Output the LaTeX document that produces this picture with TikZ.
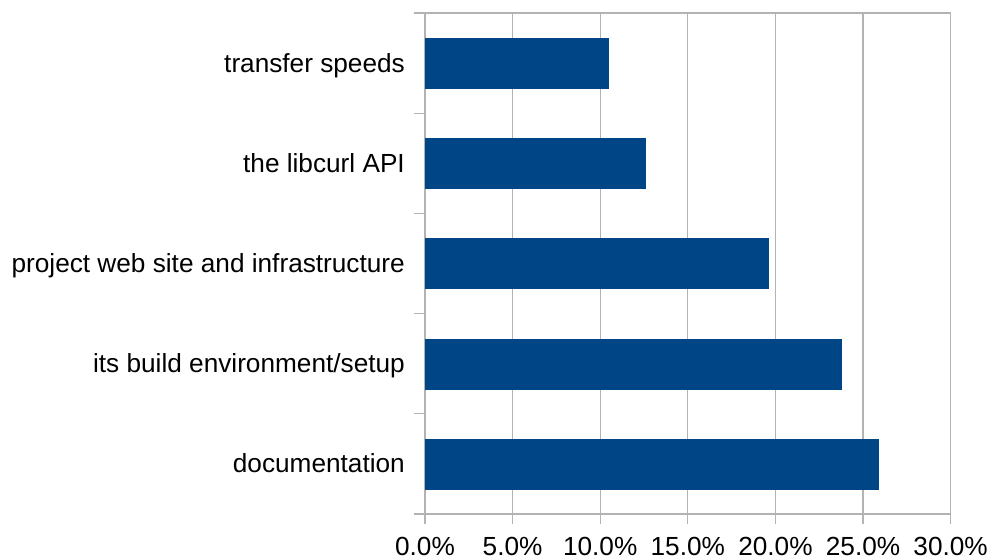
\documentclass[tikz,border=0pt]{standalone}
\usepackage{fontspec}
\setmainfont{Liberation Sans}
\definecolor{barblue}{HTML}{004586}
\definecolor{gridgray}{HTML}{B3B3B3}
\begin{document}
\begin{tikzpicture}[x=1pt,y=-1pt,
  gridline/.style={draw=gridgray,line width=1.2pt},
  bar/.style={fill=barblue},
  catlabel/.style={anchor=base east,inner sep=0pt,font=\fontsize{26.2}{30}\selectfont},
  ticklabel/.style={anchor=base,inner sep=0pt,font=\fontsize{26.2}{30}\selectfont}]
\useasboundingbox (0,0) rectangle (990,557);
% gridlines and axis
\foreach \i in {0,...,6}{
  \pgfmathsetmacro{\xx}{425+\i*87.6}
  \draw[gridline] (\xx,13) -- (\xx,524);
}
\foreach \j in {0,...,5}{
  \pgfmathsetmacro{\yy}{13+\j*100.2}
  \draw[gridline] (414,\yy) -- (425,\yy);
}
\draw[gridline] (425,13) -- (950.6,13);
\draw[gridline] (425,514) -- (950.6,514);
% bars
\fill[bar] (425,38) rectangle (609,89);
\fill[bar] (425,138.2) rectangle (646,189.2);
\fill[bar] (425,238.4) rectangle (769,289.4);
\fill[bar] (425,338.6) rectangle (842,389.6);
\fill[bar] (425,438.8) rectangle (879,489.8);
% category labels
\node[catlabel] (c1) at (405,72) {transfer speeds};
\node[catlabel] (c2) at (405,172.2) {the libcurl API};
\node[catlabel] (c3) at (405,272.4) {project web site and infrastructure};
\node[catlabel] (c4) at (405,372.6) {its build environment/setup};
\node[catlabel] (c5) at (405,472.8) {documentation};
% tick labels
\node[ticklabel] (t0) at (425,555) {0.0\%};
\node[ticklabel] (t1) at (512.6,555) {5.0\%};
\node[ticklabel] (t2) at (600.2,555) {10.0\%};
\node[ticklabel] (t3) at (687.8,555) {15.0\%};
\node[ticklabel] (t4) at (775.4,555) {20.0\%};
\node[ticklabel] (t5) at (863,555) {25.0\%};
\node[ticklabel] (t6) at (950.6,555) {30.0\%};
\end{tikzpicture}
\end{document}
